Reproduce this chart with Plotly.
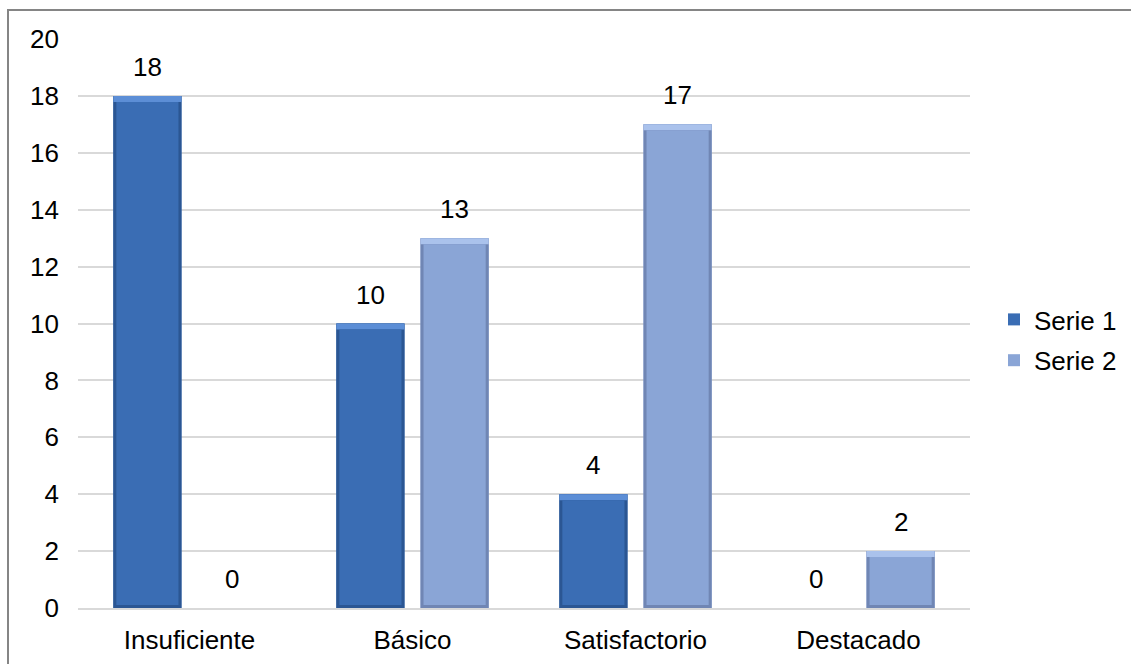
import plotly.graph_objects as go

categories = ["Insuficiente", "Básico", "Satisfactorio", "Destacado"]
serie_1 = [18, 10, 4, 0]
serie_2 = [0, 13, 17, 2]
y_ticks = [0, 2, 4, 6, 8, 10, 12, 14, 16, 18, 20]

W, H = 1131, 664
L, R, T, B = 78, 161, 39, 56
pw, ph = W - L - R, H - T - B
Y_MAX = 20

# bar geometry in category units
SLOT = 0.3775          # width of one series slot inside a group
BAR_W = 0.3056         # drawn bar width
# bevel sizes converted from pixels to axis units
cat_px = pw / len(categories)
unit_px = ph / Y_MAX
SIDE = 3 / cat_px
TOP = 6 / unit_px
BOTTOM = 3 / unit_px

font = dict(family="Liberation Sans, Arial, sans-serif", size=26, color="#000000")

series = [
    # name, values, edge, face, highlight
    ("Serie 1", serie_1, "#2B5693", "#3A6DB4", "#5C8ED6"),
    ("Serie 2", serie_2, "#7086B4", "#8AA5D6", "#AAC2EC"),
]

fig = go.Figure()
n = len(series)
for i, (name, vals, edge, face, hi) in enumerate(series):
    centre = (i - (n - 1) / 2) * SLOT
    left = centre - BAR_W / 2
    # full bar in the edge colour (sides and bottom of the bevel)
    fig.add_trace(go.Bar(
        name=name, x=categories, y=vals, legendgroup=name, showlegend=True,
        offset=left, width=BAR_W, marker=dict(color=face, line=dict(width=0)),
        hoverinfo="skip",
    ))
    fig.add_trace(go.Bar(
        x=categories, y=vals, legendgroup=name, showlegend=False,
        offset=left, width=BAR_W, marker=dict(color=edge, line=dict(width=0)),
    ))
    # lighter top bevel
    fig.add_trace(go.Bar(
        x=categories, y=[min(v, TOP) for v in vals],
        base=[v - min(v, TOP) for v in vals],
        legendgroup=name, showlegend=False,
        offset=left, width=BAR_W, marker=dict(color=hi, line=dict(width=0)),
        hoverinfo="skip",
    ))
    # inset face
    fig.add_trace(go.Bar(
        x=categories, y=[max(v - TOP - BOTTOM, 0) for v in vals],
        base=BOTTOM, legendgroup=name, showlegend=False,
        offset=left + SIDE, width=BAR_W - 2 * SIDE,
        marker=dict(color=face, line=dict(width=0)),
        hoverinfo="skip",
    ))
    # value labels
    for cat, v in zip(categories, vals):
        fig.add_annotation(x=cat, y=v, text=str(v), showarrow=False,
                           xshift=centre * cat_px, yshift=12, yanchor="bottom",
                           font=font)

# outer chart border (right and bottom edges run past the page)
def px_x(p):
    return (p - L) / pw

def px_y(p):
    return (H - B - p) / ph

fig.add_shape(type="rect", xref="paper", yref="paper",
              x0=px_x(8), x1=px_x(W + 20), y0=px_y(H + 20), y1=px_y(10),
              line=dict(color="#858585", width=2), fillcolor="rgba(0,0,0,0)",
              layer="below")

fig.update_layout(
    width=W, height=H,
    margin=dict(l=L, r=R, t=T, b=B, autoexpand=False),
    paper_bgcolor="white", plot_bgcolor="white",
    font=font,
    barmode="overlay",
    showlegend=True,
    legend=dict(x=px_x(994), y=px_y(340), xanchor="left", yanchor="middle",
                font=font, tracegroupgap=4, itemwidth=30),
)
fig.update_yaxes(range=[0, Y_MAX], tickvals=y_ticks, showgrid=True,
                 gridcolor="#D9D9D9", gridwidth=1.5, zeroline=False,
                 showline=False, ticks="", ticklabelstandoff=18)
fig.update_xaxes(showline=True, linecolor="#D9D9D9", linewidth=2,
                 showgrid=False, ticks="", ticklabelstandoff=8,
                 range=[-0.5, len(categories) - 0.5])

fig.write_html("out.html")
